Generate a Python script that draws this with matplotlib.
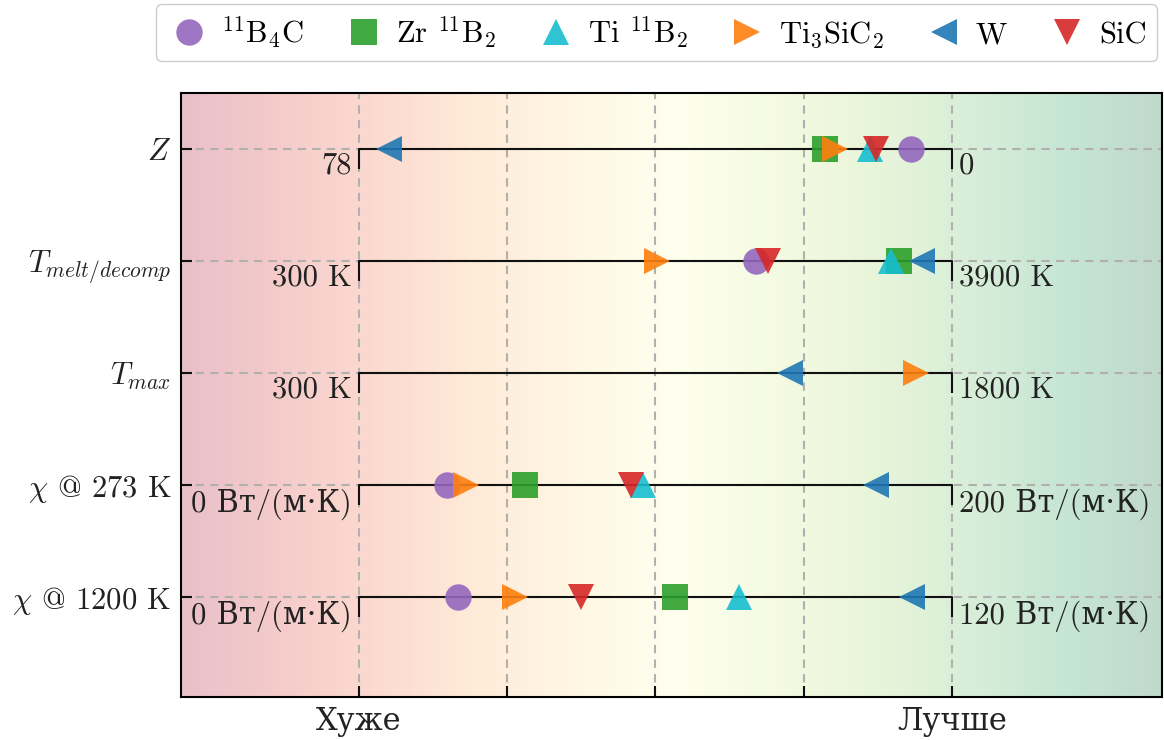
import numpy as np
import matplotlib
matplotlib.use("Agg")
import matplotlib.pyplot as plt

plt.rcParams['font.family'] = ['cmr10', 'DejaVu Serif']
plt.rcParams['mathtext.fontset'] = 'cm'
plt.rcParams['axes.unicode_minus'] = False
plt.rcParams['axes.formatter.use_mathtext'] = True

# Materials
materials = ['$^{11}$B$_4$C', 'Zr $^{11}$B$_2$', 'Ti $^{11}$B$_2$', 'Ti$_3$SiC$_2$', 'W', 'SiC']
markers = ['o', 's', '^', '>', '<', 'v']
colors = ['#9467bd', '#2ca02c', '#17becf', '#ff7f0e', '#1f77b4', '#d62728']

# Properties (rows, top to bottom)
prop_labels = ['$Z$', '$T_{melt/decomp}$', '$T_{max}$', r'$\chi$ @ 273 K', r'$\chi$ @ 1200 K']
range_lo = [78, 300, 300, 0, 0]        # value at "Хуже"
range_hi = [0, 3900, 1800, 200, 120]   # value at "Лучше"
lo_labels = ['78', '300 K', '300 K', '0 Вт/(м·К)', '0 Вт/(м·К)']
hi_labels = ['0', '3900 K', '1800 K', '200 Вт/(м·К)', '120 Вт/(м·К)']

# values per property, in material order
z_vals = [5.4, 16.7, 10.7, 15.3, 74, 10.0]
tmelt_vals = [2710, 3580, 3530, 2110, 3720, 2785]
tmax_vals = [np.nan, np.nan, np.nan, 1710, 1390, np.nan]
chi273_vals = [29.7, 56, 95.8, 36, 174.4, 91.7]
chi1200_vals = [20, 64, 76.9, 31.6, 112, 44.9]
all_vals = [z_vals, tmelt_vals, tmax_vals, chi273_vals, chi1200_vals]

fs = 22

fig = plt.figure(figsize=(11.64, 7.4), dpi=100)
ax = fig.add_axes([0.1555, 0.0581, 0.8425, 0.8162])

xlim = (-0.3, 1.354)
ylim = (4.893, -0.5)

# background gradient
grad = np.linspace(0, 1, 256)[None, :]
ax.imshow(grad, extent=[xlim[0], xlim[1], ylim[0], ylim[1]], aspect='auto',
          cmap='RdYlGn', alpha=0.25, zorder=0)

tick_len = 0.17
for i in range(len(prop_labels)):
    ax.plot([0, 0, 1, 1], [i + tick_len, i, i, i + tick_len], color='#111111', lw=1.5, zorder=2)
    ax.text(-0.012, i + 0.03, lo_labels[i], ha='right', va='top', fontsize=fs, color='#222222')
    ax.text(1.012, i + 0.03, hi_labels[i], ha='left', va='top', fontsize=fs, color='#222222')

for j, name in enumerate(materials):
    xs, ys = [], []
    for i in range(len(prop_labels)):
        v = all_vals[i][j]
        if np.isnan(v):
            continue
        xs.append((v - range_lo[i]) / (range_hi[i] - range_lo[i]))
        ys.append(i)
    ax.plot(xs, ys, linestyle='none', marker=markers[j], color=colors[j], ms=19,
            mew=0, alpha=0.9, label=name, zorder=3)

ax.set_xlim(xlim)
ax.set_ylim(ylim)
ax.set_yticks(range(len(prop_labels)))
ax.set_yticklabels(prop_labels, fontsize=fs)
ax.set_xticks([0, 0.25, 0.5, 0.75, 1])
ax.set_xticklabels(['Хуже', '', '', '', 'Лучше'], fontsize=fs)
ax.tick_params(direction='in', length=8, width=1.5, pad=7, colors='#111111', labelcolor='#222222')
ax.grid(True, linestyle='--', color='#b0b0b0', lw=1.5, dashes=(4, 3))
for s in ax.spines.values():
    s.set_linewidth(1.5)

fig.legend(loc='upper center', bbox_to_anchor=(0.564, 0.995), ncol=6, fontsize=fs,
           frameon=True, fancybox=True, edgecolor='#cccccc', framealpha=1,
           handletextpad=0.3, columnspacing=1.2, borderpad=0.35, handlelength=1.5,
           borderaxespad=0)

fig.savefig('out.png', dpi=100)
